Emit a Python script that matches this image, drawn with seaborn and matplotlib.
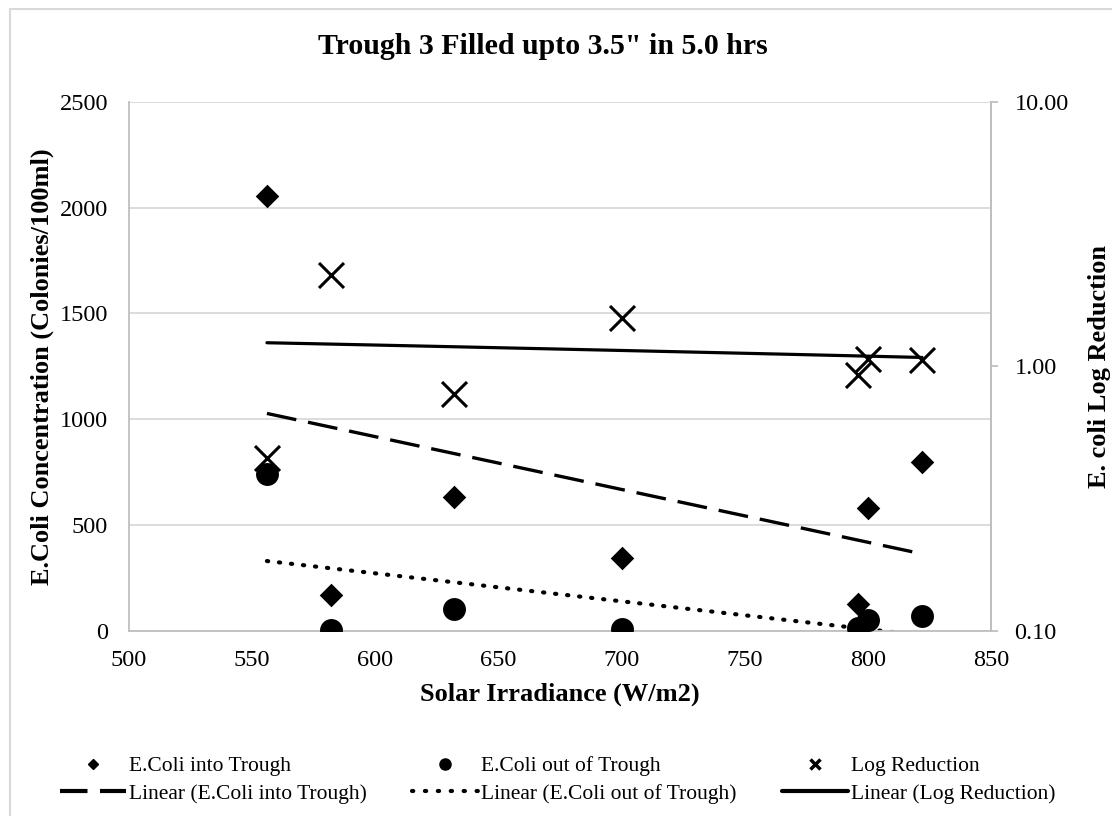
import numpy as np
import pandas as pd
import matplotlib
matplotlib.use("Agg")
import matplotlib.pyplot as plt
import seaborn as sns
from matplotlib.lines import Line2D
from matplotlib.patches import Rectangle

# ---- data ----
irradiance = [556, 582, 632, 700, 796, 800, 822]
ecoli_in = [2055, 170, 630, 345, 125, 580, 800]
ecoli_out = [740, 1, 103, 10, 15, 50, 70]
log_reduction = [0.45, 2.22, 0.785, 1.53, 0.93, 1.07, 1.06]

left_ticks = [0, 500, 1000, 1500, 2000, 2500]
right_ticks = [0.1, 1.0, 10.0]
right_tick_labels = ["0.10", "1.00", "10.00"]
x_ticks = [500, 550, 600, 650, 700, 750, 800, 850]

df = pd.DataFrame({"x": irradiance, "into": ecoli_in, "out": ecoli_out, "lr": log_reduction})

sns.set_theme(style="white")
plt.rcParams["font.family"] = ["Liberation Serif", "DejaVu Serif"]
plt.rcParams["text.color"] = "black"
plt.rcParams["axes.labelcolor"] = "black"
plt.rcParams["xtick.color"] = "black"
plt.rcParams["ytick.color"] = "black"

fig = plt.figure(figsize=(11.12, 8.16), dpi=100)
ax = fig.add_axes([129 / 1112, 1 - 630.7 / 816, (991 - 129) / 1112, (630.7 - 102) / 816])
ax2 = ax.twinx()

# outer chart border
fig.patches.append(Rectangle((10 / 1112, -0.02), 1.02, 1 - 9 / 816 + 0.02, transform=fig.transFigure,
                             fill=False, edgecolor="#d9d9d9", linewidth=1.5, zorder=0))

DASH = (0, (9, 3.6))
DOT = (0, (0.3, 2.6))

# trendlines
sns.regplot(data=df, x="x", y="into", ax=ax, scatter=False, ci=None, truncate=True,
            line_kws=dict(color="black", linewidth=2.4, linestyle=DASH, zorder=2))
sns.regplot(data=df, x="x", y="out", ax=ax, scatter=False, ci=None, truncate=True,
            line_kws=dict(color="black", linewidth=3, linestyle=DOT,
                          dash_capstyle="round", zorder=2))

# scatter points
sns.scatterplot(data=df, x="x", y="into", ax=ax, marker="D", s=12**2, color="black",
                edgecolor="black", linewidth=0, zorder=3, legend=False)
sns.scatterplot(data=df, x="x", y="out", ax=ax, marker="o", s=16.5**2, color="black",
                edgecolor="black", linewidth=0, zorder=3, legend=False)

ax2.set_yscale("log")
sns.regplot(data=df, x="x", y="lr", ax=ax2, scatter=False, ci=None, truncate=True,
            line_kws=dict(color="black", linewidth=2.3, zorder=2))
sns.scatterplot(data=df, x="x", y="lr", ax=ax2, marker="x", s=18**2, color="black",
                linewidth=2.2, zorder=3, legend=False)

# axes limits and ticks
ax.set_xlim(500, 850)
ax.set_ylim(0, 2500)
ax.set_xticks(x_ticks)
ax.set_yticks(left_ticks)
ax2.set_ylim(0.1, 10)
ax2.set_yticks(right_ticks)
ax2.set_yticklabels(right_tick_labels)
ax2.yaxis.set_minor_locator(matplotlib.ticker.NullLocator())

ax.grid(axis="y", color="#d9d9d9", linewidth=1.3)
ax.set_axisbelow(True)
for a in (ax, ax2):
    for s in a.spines.values():
        s.set_color("#bfbfbf")
        s.set_linewidth(1.3)
    a.spines["top"].set_visible(False)
ax2.spines["left"].set_visible(False)
ax2.spines["bottom"].set_visible(False)

ax.tick_params(axis="y", labelsize=17.5, length=0, pad=15)
ax.tick_params(axis="x", labelsize=17.5, length=0, pad=14)
ax2.tick_params(axis="y", labelsize=17.5, length=5, width=1.3, direction="out",
                pad=12, color="#bfbfbf", labelcolor="black")

ax.set_xlabel("Solar Irradiance (W/m2)", fontsize=19, fontweight="bold", labelpad=8)
ax.set_ylabel("E.Coli Concentration (Colonies/100ml)", fontsize=19, fontweight="bold", labelpad=4)
ax2.set_ylabel("E. coli Log Reduction", fontsize=19, fontweight="bold", labelpad=14)

fig.text(543 / 1112, 1 - 47 / 816, "Trough 3 Filled upto 3.5\" in 5.0 hrs", fontsize=21.5,
         fontweight="bold", ha="center", va="center")

# legend
h_in = Line2D([], [], marker="D", color="black", linestyle="none", markersize=5)
h_out = Line2D([], [], marker="o", color="black", linestyle="none", markersize=8)
h_lr = Line2D([], [], marker="x", color="black", linestyle="none", markersize=7, markeredgewidth=2.5)
l_in = Line2D([], [], color="black", linewidth=3, linestyle=(0, (6.6, 3.0)))
l_out = Line2D([], [], color="black", linewidth=3, linestyle=(0, (0.3, 2.8)), dash_capstyle="round")
l_lr = Line2D([], [], color="black", linewidth=3)
handles = [h_in, l_in, h_out, l_out, h_lr, l_lr]
labels = ["E.Coli into Trough", "Linear (E.Coli into Trough)",
          "E.Coli out of Trough", "Linear (E.Coli out of Trough)",
          "Log Reduction", "Linear (Log Reduction)"]
fig.legend(handles, labels, ncol=3, loc="center left", bbox_to_anchor=(60 / 1112, 1 - 780 / 816),
           frameon=False, fontsize=15.5, handlelength=3.06, handletextpad=0.15, columnspacing=2.1,
           labelspacing=0.35, borderpad=0, borderaxespad=0)

fig.savefig("out.png", dpi=100)
